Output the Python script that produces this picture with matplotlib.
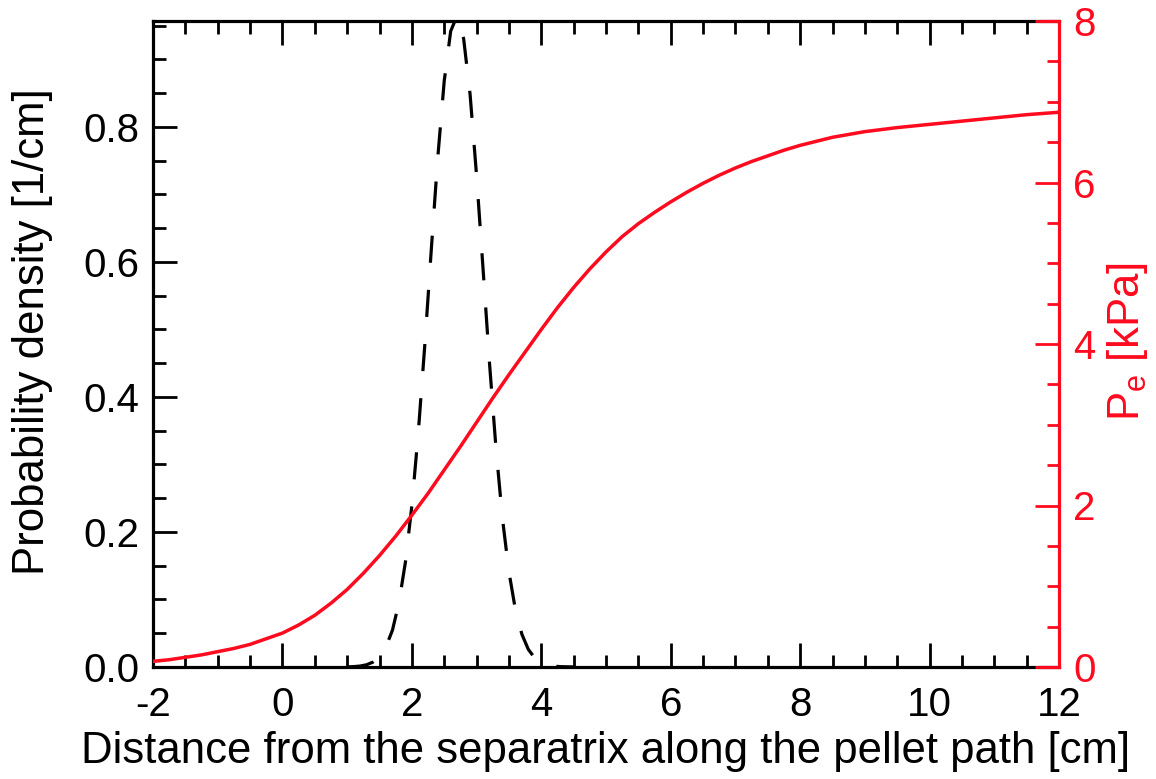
import matplotlib
matplotlib.use("Agg")
import matplotlib.pyplot as plt
from matplotlib.ticker import MultipleLocator

plt.rcParams['font.family'] = ['Liberation Sans', 'DejaVu Sans']

# Electron pressure profile (red, right axis)
pe_x = [-2.0, -1.75, -1.5, -1.25, -1.0, -0.75, -0.5, -0.25, 0.0, 0.25, 0.5, 0.75,
        1.0, 1.25, 1.5, 1.75, 2.0, 2.25, 2.5, 2.75, 3.0, 3.25, 3.5, 3.75, 4.0,
        4.25, 4.5, 4.75, 5.0, 5.25, 5.5, 5.75, 6.0, 6.25, 6.5, 6.75, 7.0, 7.25,
        7.5, 7.75, 8.0, 8.5, 9.0, 9.5, 10.0, 10.5, 11.0, 11.5, 12.0]
pe_y = [0.07, 0.09, 0.12, 0.15, 0.19, 0.23, 0.28, 0.35, 0.42, 0.52, 0.64, 0.79,
        0.96, 1.16, 1.38, 1.62, 1.88, 2.15, 2.44, 2.73, 3.03, 3.33, 3.62, 3.90, 4.18,
        4.45, 4.70, 4.93, 5.14, 5.33, 5.49, 5.63, 5.76, 5.88, 5.99, 6.09, 6.18, 6.26,
        6.33, 6.40, 6.46, 6.56, 6.63, 6.68, 6.72, 6.76, 6.80, 6.84, 6.87]

# Probability density (black dashed, left axis)
pd_x = [1.0, 1.1, 1.2, 1.3, 1.4, 1.5, 1.6, 1.7, 1.8, 1.9, 2.0, 2.1, 2.2, 2.3, 2.4,
        2.5, 2.6, 2.7, 2.8, 2.9, 3.0, 3.1, 3.2, 3.3, 3.4, 3.5, 3.6, 3.7, 3.8,
        3.9, 4.0, 4.1, 4.2, 4.3, 4.5]
pd_y = [0.0001, 0.0006, 0.0014, 0.0033, 0.0073, 0.0152, 0.030, 0.0545, 0.095, 0.155,
        0.239, 0.348, 0.477, 0.618, 0.754, 0.868, 0.942, 0.965, 0.931, 0.848,
        0.728, 0.590, 0.450, 0.324, 0.220, 0.141, 0.085, 0.0485, 0.026, 0.0132,
        0.0063, 0.0028, 0.0012, 0.0005, 0.0001]

x_ticks = [-2, 0, 2, 4, 6, 8, 10, 12]
left_ticks = [0.0, 0.2, 0.4, 0.6, 0.8]
right_ticks = [0, 2, 4, 6, 8]

RED = '#ff0a1e'
FS = 29
LFS = 31.5

fig = plt.figure(figsize=(11.56, 7.79), dpi=100)
ax = fig.add_axes([153/1156, 1 - 667/779, (1059-153)/1156, (667-21)/779])
ax2 = ax.twinx()

ax.plot(pd_x, pd_y, color='black', lw=2.3, linestyle=(0, (8.5, 8.5)))
ax.set_xlim(-2, 12)
ax.set_ylim(0, 0.957)
ax.set_xticks(x_ticks)
ax.set_xticklabels([str(t) for t in x_ticks])
ax.xaxis.set_minor_locator(MultipleLocator(0.5))
ax.set_yticks(left_ticks)
ax.set_yticklabels(['%.1f' % t for t in left_ticks])
ax.yaxis.set_minor_locator(MultipleLocator(0.05))
ax.tick_params(axis='x', which='both', direction='in', top=True, bottom=True,
               labelsize=FS, pad=14, width=2, color='black')
ax.tick_params(axis='y', which='both', direction='in', left=True, right=False,
               labelsize=FS, pad=10, width=2)
ax.tick_params(which='major', length=17)
ax.tick_params(which='minor', length=9)
for s in ax.spines.values():
    s.set_linewidth(2.3)
ax.spines['right'].set_visible(False)
ax.set_xlabel('Distance from the separatrix along the pellet path [cm]', fontsize=LFS)
ax.xaxis.set_label_coords(0.5, -(752 - 667) / 646, transform=ax.transAxes)
ax.xaxis.label.set_va('center')
ax.set_ylabel('Probability density [1/cm]', fontsize=LFS)
ax.yaxis.set_label_coords(-(153 - 33) / 906, (667 - 332) / 646, transform=ax.transAxes)
ax.yaxis.label.set_va('center')

ax2.plot(pe_x, pe_y, color=RED, lw=2.5)
ax2.set_ylim(0, 8)
ax2.set_yticks(right_ticks)
ax2.set_yticklabels([str(t) for t in right_ticks])
ax2.yaxis.set_minor_locator(MultipleLocator(0.5))
ax2.tick_params(axis='y', which='both', direction='in', right=True, left=False,
                labelsize=FS, pad=10, width=2, color=RED, labelcolor=RED)
ax2.tick_params(axis='y', which='major', length=17)
ax2.tick_params(axis='y', which='minor', length=9)
for k, s in ax2.spines.items():
    s.set_linewidth(2.3)
    if k != 'right':
        s.set_visible(False)
ax2.spines['right'].set_color(RED)
ax2.set_ylabel('P$_\\mathregular{e}$ [kPa]', fontsize=LFS, color=RED)
ax2.yaxis.set_label_coords(1 + (1128 - 1059) / 906, (667 - 342) / 646, transform=ax2.transAxes)
ax2.yaxis.label.set_va('center')

# short red pieces of the top and bottom frame at the right corner
seg0 = (1040 - 153) / 906
ax2.plot([seg0, 1], [1, 1], color=RED, lw=2.3, transform=ax2.transAxes, clip_on=False,
         solid_capstyle='butt')
ax2.plot([seg0, 1], [0, 0], color=RED, lw=2.3, transform=ax2.transAxes, clip_on=False,
         solid_capstyle='butt')

fig.savefig('out.png', dpi=100)
